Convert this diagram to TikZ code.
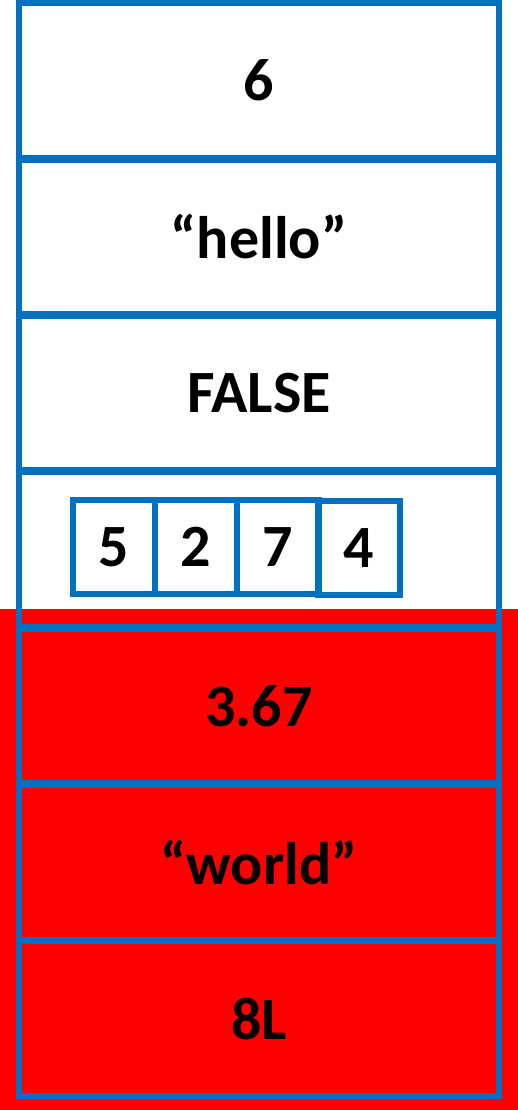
\documentclass[tikz,border=0pt]{standalone}
\usepackage{fontspec}
\setmainfont{Carlito}
\definecolor{mblue}{HTML}{0070C0}
\definecolor{mred}{HTML}{FF0000}
\tikzset{
  cell/.style={draw=mblue, line width=6pt, minimum width=480pt, inner sep=0pt,
    font=\fontsize{60}{70}\selectfont\bfseries, text=black},
  elem/.style={draw=mblue, line width=6pt, minimum width=82pt, minimum height=94pt, inner sep=0pt,
    font=\fontsize{60}{70}\selectfont\bfseries, text=black}
}
\begin{document}
\begin{tikzpicture}[x=1pt,y=-1pt]
\useasboundingbox (0,0) rectangle (518,1110);
\fill[white] (0,0) rectangle (518,1110);
\fill[mred] (0,609) rectangle (518,1110);
\node[cell, minimum height=155pt] (c1) at (259,80.5) {6};
\node[cell, minimum height=154pt] (c2) at (259,237) {“hello”};
\node[cell, minimum height=154pt] (c3) at (259,393) {FALSE};
\node[cell, minimum height=155pt] (c4) at (259,549.5) {};
\node[cell, minimum height=154pt] (c5) at (259,706) {3.67};
\node[cell, minimum height=155pt] (c6) at (259,862.5) {“world”};
\node[cell, minimum height=155pt] (c7) at (259,1018.5) {8L};
\node[elem] (e1) at (114,547) {5};
\node[elem] (e2) at (196,547) {2};
\node[elem] (e3) at (277.5,547) {7};
\node[elem] (e4) at (359,548) {4};
\end{tikzpicture}
\end{document}
